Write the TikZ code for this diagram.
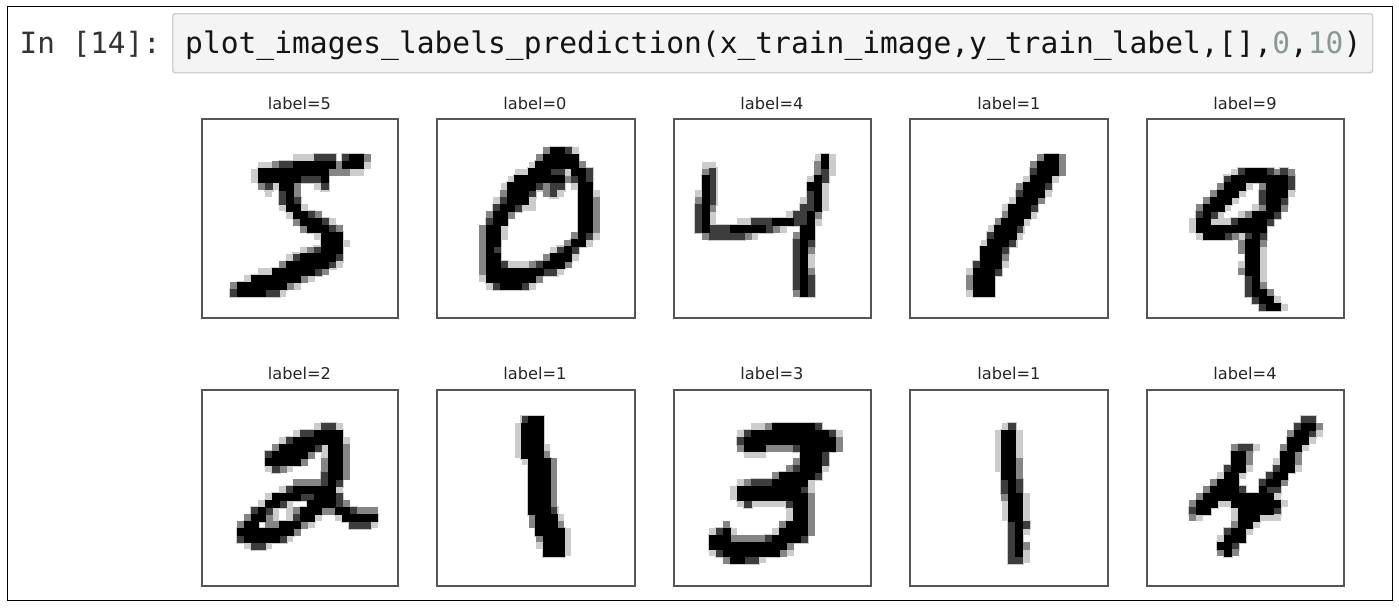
\documentclass[tikz,border=0pt]{standalone}
\usepackage{fontspec}
\newfontfamily\codefont{DejaVu Sans Mono}
\newfontfamily\labelfont{DejaVu Sans}
\definecolor{inbg}{HTML}{F4F4F4}
\definecolor{inline}{HTML}{CFCFCF}
\definecolor{numcol}{HTML}{8A9A92}
\definecolor{codecol}{HTML}{141414}
\definecolor{promptcol}{HTML}{333333}
\definecolor{axcol}{HTML}{555555}
\newcount\cc
\def\setorigin#1#2#3#4{\def\ox{#1}\def\oy{#2}\def\cw{#3}\def\ch{#4}}
\def\pr#1#2#3{\def\currow{#1}\cc=#2\relax\prloop#3\relax}
\def\prloop#1{\ifx#1\relax\else\prcell#1\advance\cc by 1\relax\expandafter\prloop\fi}
\def\prbox#1#2{\fill[#1] ({\ox+\the\cc*\cw-#2},{\oy+\currow*\ch-#2}) rectangle ++({\cw+2*#2},{\ch+2*#2});}
\def\prcell#1{\if#1.\else
  \ifnum\passlevel=0
    \ifnum#1>2 \prbox{black!20}{1.5}\fi
  \else
    \ifnum#1=\passlevel
      \ifcase#1\or\prbox{lv1}{0.1}\or\prbox{lv2}{0.2}\or\prbox{lv3}{0.3}\or\prbox{lv4}{0.5}\fi
    \fi
  \fi
\fi}
\tikzset{
  lv1/.style={fill=black!20},
  lv2/.style={fill=black!48},
  lv3/.style={fill=black!76},
  lv4/.style={fill=black},
  imgbox/.style={draw=axcol,line width=1.9pt,fill=none,inner sep=0pt,minimum width=#1,anchor=north west},
  imglabel/.style={font=\labelfont\fontsize{16.2}{18}\selectfont,text=black!85,anchor=base,inner sep=0pt},
  codetext/.style={font=\codefont\fontsize{29.6}{34}\selectfont,anchor=base west,inner sep=0pt}
}
\begin{document}
\begin{tikzpicture}[x=1pt,y=-1pt]
\useasboundingbox (0,0) rectangle (1399,613);
\fill[white] (0,0) rectangle (1399,613);
\node[draw=black,line width=1.1pt,minimum width=1385pt,minimum height=594pt,inner sep=0pt,anchor=north west] (frame) at (7,6) {};
\node[draw=inline,fill=inbg,line width=1.4pt,rounded corners=2.5pt,minimum width=1200pt,minimum height=59pt,inner sep=0pt,anchor=north west] (cell) at (172,13) {};
\node[codetext,text=promptcol,font=\codefont\fontsize{29.3}{34}\selectfont] (prompt) at (19.5,53) {In [14]:};
\node[codetext,text=codecol] (code) at (185,53) {plot\_images\_labels\_prediction(x\_train\_image,y\_train\_label,[],{\color{numcol}0},{\color{numcol}10})};

\def\alldigits{%
\setorigin{202}{119}{7.03}{7.1}%
\pr{5}{13}{111 333 . 3 44 2}%
\pr{6}{8}{11 2 33 444444 2 444 1}%
\pr{7}{7}{1 4444444444 222 11}%
\pr{8}{7}{1 444444 333 4}%
\pr{9}{8}{2 3 1 44 2 .. 1 3}%
\pr{10}{9}{1 . 3 4 2}%
\pr{11}{11}{3 4 3}%
\pr{12}{11}{1 44 1}%
\pr{13}{12}{1 44 3 2}%
\pr{14}{13}{2 444 3 1}%
\pr{15}{14}{2 444 3 2}%
\pr{16}{16}{1 444}%
\pr{17}{17}{444 1}%
\pr{18}{14}{1 2 3 444}%
\pr{19}{12}{1 3 44444 3}%
\pr{20}{11}{2 444444 3 1}%
\pr{21}{8}{11 444444 3 2}%
\pr{22}{6}{1 4444444 2 1}%
\pr{23}{4}{2 4444444 2 1}%
\pr{24}{4}{3 4444 33 1}%
\setorigin{437}{119}{7.07}{7.1}%
\pr{4}{15}{2 44 3 1}%
\pr{5}{14}{2 44444}%
\pr{6}{13}{1 444444 2}%
\pr{7}{11}{1 1 444 33 1 44 3}%
\pr{8}{10}{1 4444444 2 3 4 3}%
\pr{9}{9}{1 4444 3 2 33 . 1 44}%
\pr{10}{9}{2 444 3 . 2 3 1 .. 44 1}%
\pr{11}{8}{1 3 444 1 ...... 44 2}%
\pr{12}{8}{3 44 3 1 1 ...... 44 2}%
\pr{13}{7}{2 44 2 ......... 44 2}%
\pr{14}{7}{3 44 .......... 44 2}%
\pr{15}{6}{2 44 1 .......... 44 2}%
\pr{16}{6}{2 44 1 ......... 2 4 3 1}%
\pr{17}{6}{2 44 ......... 2 44 1}%
\pr{18}{6}{2 4 3 ....... 1 3 4 3}%
\pr{19}{6}{2 44 ...... 2 444 1}%
\pr{20}{6}{2 44 3 1 1 1 2 3 444 2}%
\pr{21}{6}{2 44444444 33 1}%
\pr{22}{6}{1 4444444 2}%
\pr{23}{7}{1 3 444 3 1}%
\setorigin{674}{119}{7.03}{7.1}%
\pr{5}{20}{1 4 1}%
\pr{6}{4}{11}%
\pr{6}{20}{2 4 1}%
\pr{7}{4}{2 3}%
\pr{7}{20}{2 3 1}%
\pr{8}{4}{4 3}%
\pr{8}{19}{1 4 3}%
\pr{9}{4}{4 3}%
\pr{9}{19}{4 4 1}%
\pr{10}{3}{1 4 3}%
\pr{10}{19}{3 4 1}%
\pr{11}{3}{2 4 3}%
\pr{11}{18}{1 3 4 1}%
\pr{12}{3}{3 4 2}%
\pr{12}{18}{3 3 4 1}%
\pr{13}{3}{3 4 1}%
\pr{13}{16}{1 3 3 4 2}%
\pr{14}{3}{3 4 1 ... 1 1 333 444 3 3 4 1}%
\pr{15}{3}{3 4 333 44444 3 2 1 .. 4 4}%
\pr{16}{4}{2 33333 2 1 ..... 2 4 4}%
\pr{17}{17}{3 4 3}%
\pr{18}{17}{3 4 2}%
\pr{19}{17}{3 4 1}%
\pr{20}{17}{3 4 1}%
\pr{21}{17}{3 4 2}%
\pr{22}{17}{3 4 3}%
\pr{23}{17}{3 4 3}%
\pr{24}{17}{2 4 3}%
\setorigin{910}{119}{7.07}{7.1}%
\pr{5}{18}{2 44 2}%
\pr{6}{17}{2 444 2}%
\pr{7}{17}{3 444 2}%
\pr{8}{16}{1 444 1}%
\pr{9}{15}{2 444 3}%
\pr{10}{15}{3 444 1}%
\pr{11}{14}{1 444 2}%
\pr{12}{13}{1 444 3}%
\pr{13}{13}{2 444 1}%
\pr{14}{12}{2 444 1}%
\pr{15}{11}{1 444 3}%
\pr{16}{11}{3 444 1}%
\pr{17}{10}{1 444 3}%
\pr{18}{10}{444 3}%
\pr{19}{10}{444 2}%
\pr{20}{9}{3 444 1}%
\pr{21}{8}{1 444 3}%
\pr{22}{8}{2 444}%
\pr{23}{8}{2 444}%
\pr{24}{8}{1 444}%
\setorigin{1147}{119}{7.03}{7.1}%
\pr{7}{12}{1 3 444 3 2 3 2}%
\pr{8}{11}{3 44444444 3}%
\pr{9}{10}{2 444 1 . 2 444 3}%
\pr{10}{9}{2 444 1 .. 3 444 1}%
\pr{11}{8}{2 444 1 ... 3 44 3}%
\pr{12}{7}{2 444 1 ... 1 2 44 2}%
\pr{13}{7}{3 4 3 1 .. 1 2 444 3}%
\pr{14}{6}{1 44 1 1 1 3 4444 3}%
\pr{15}{6}{1 4444444444}%
\pr{16}{7}{1 444 3 2 1 3 4 3}%
\pr{17}{13}{2 44 2}%
\pr{18}{13}{2 44 1}%
\pr{19}{14}{44 1}%
\pr{20}{13}{1 44 1}%
\pr{21}{13}{2 44 1}%
\pr{22}{14}{3 4 1}%
\pr{23}{14}{3 4 2}%
\pr{24}{14}{3 44 2}%
\pr{25}{15}{3 44 1}%
\pr{26}{16}{3 44 1}%
\setorigin{202}{423.3}{7.03}{7}%
\pr{0}{16}{1 33 1}%
\pr{1}{13}{1 33 4444}%
\pr{2}{11}{1 3 4444444 1}%
\pr{3}{10}{2 44444 3 1 44 2}%
\pr{4}{9}{3 44444 2 . 1 44 2}%
\pr{5}{9}{44444 2 .. 2 44 2}%
\pr{6}{9}{1 3 2 1 .... 2 44 2}%
\pr{7}{17}{3 44 2}%
\pr{8}{13}{2222 3 4 3}%
\pr{9}{11}{1 3 444444 1}%
\pr{10}{9}{1 4444 33 444 3}%
\pr{11}{8}{1 44 3 1 .. 4444 3 2}%
\pr{12}{7}{3 4 3 1 . 1 2 444 22 44 3 222}%
\pr{13}{6}{2 44 2 1 . 1 3 44 1 .. 1 44444}%
\pr{14}{5}{2 44 . 22 444 2 1 ..... 333 1}%
\pr{15}{5}{44444444 2}%
\pr{16}{5}{3 44444 3 1}%
\pr{17}{6}{1 33 1}%
\setorigin{437}{388}{7.07}{7}%
\pr{4}{12}{3 44}%
\pr{5}{11}{1 444}%
\pr{6}{11}{1 444}%
\pr{7}{11}{1 444}%
\pr{8}{11}{1 444 1}%
\pr{9}{11}{1 444 2}%
\pr{10}{12}{1 444 2}%
\pr{11}{13}{444 2}%
\pr{12}{13}{444 2}%
\pr{13}{13}{444 2}%
\pr{14}{13}{444 2}%
\pr{15}{13}{444 2}%
\pr{16}{13}{444 2}%
\pr{17}{13}{444 3}%
\pr{18}{13}{2 444 1}%
\pr{19}{13}{2 444 2}%
\pr{20}{14}{4444 1}%
\pr{21}{14}{2 444 1}%
\pr{22}{14}{1 444 1}%
\pr{23}{15}{444 1}%
\setorigin{674}{423.3}{7.03}{7}%
\pr{0}{11}{11 2 444444 3}%
\pr{1}{9}{1 3 44444444444 3 1}%
\pr{2}{9}{3 4444444444444 2}%
\pr{3}{9}{2 444 2222 3 44444 2}%
\pr{4}{10}{111 ..... 444 3}%
\pr{5}{17}{2 444 3}%
\pr{6}{16}{2 3 444 1}%
\pr{7}{14}{2 44444 3}%
\pr{8}{9}{1 2 333 44444 1}%
\pr{9}{8}{1 444444444 3 1}%
\pr{10}{8}{1 4444444444 2}%
\pr{11}{9}{1 3 11111 3 44 2}%
\pr{12}{16}{1 44 2}%
\pr{13}{16}{1 44 2}%
\pr{14}{7}{2 ....... 2 444 2}%
\pr{15}{5}{1 3 4 1 ..... 1 4444 2}%
\pr{16}{5}{444 22222 3 4444 3}%
\pr{17}{5}{44444444444 2}%
\pr{18}{5}{1 3 44444444 2 1}%
\pr{19}{7}{2 44 3 3 1}%
\setorigin{910}{388.3}{7.05}{7}%
\pr{5}{13}{1 3}%
\pr{6}{12}{1 44 1}%
\pr{7}{12}{1 44 1}%
\pr{8}{12}{1 44 1}%
\pr{9}{12}{1 44 1}%
\pr{10}{12}{1 44 2}%
\pr{11}{12}{1 44 2}%
\pr{12}{13}{44 2}%
\pr{13}{13}{3 4 3}%
\pr{14}{13}{3 4 3}%
\pr{15}{13}{2 44 1}%
\pr{16}{13}{1 44 1}%
\pr{17}{13}{1 44 1}%
\pr{18}{13}{1 44 1}%
\pr{19}{14}{3 4 3}%
\pr{20}{14}{3 4 1}%
\pr{21}{14}{3 4}%
\pr{22}{14}{3 4 2}%
\pr{23}{14}{3 4 1}%
\pr{24}{14}{33 1}%
\setorigin{1147}{416}{7.03}{7}%
\pr{0}{22}{33}%
\pr{1}{21}{3 44 2}%
\pr{2}{20}{2 44 3 1}%
\pr{3}{20}{444 1}%
\pr{4}{12}{2 3 3 1}%
\pr{4}{19}{2 44 1}%
\pr{5}{12}{44 2}%
\pr{5}{19}{44 2}%
\pr{6}{12}{44 2}%
\pr{6}{18}{1 44 2}%
\pr{7}{11}{3 44 1}%
\pr{7}{18}{3 44 1}%
\pr{8}{10}{1 44 1}%
\pr{8}{17}{3 44}%
\pr{9}{9}{2 444 ... 3 44 2}%
\pr{10}{8}{2 4444 3 .. 4 33}%
\pr{11}{7}{2 4444444444 1}%
\pr{12}{6}{2 444 11 4444444 1}%
\pr{13}{6}{3 44 ... 1 44444 3}%
\pr{14}{6}{2 1 .... 1 444 111}%
\pr{15}{12}{2 44 1}%
\pr{16}{11}{3 44 1}%
\pr{17}{10}{1 444}%
\pr{18}{10}{44 3}%
\pr{19}{10}{2 4 2}%
}
\def\passlevel{0}\alldigits
\def\passlevel{1}\alldigits
\def\passlevel{2}\alldigits
\def\passlevel{3}\alldigits
\def\passlevel{4}\alldigits

% image frames
\node[imgbox=196pt,minimum height=199pt] (a1) at (201,118) {};
\node[imgbox=198pt,minimum height=199pt] (a2) at (436,118) {};
\node[imgbox=197pt,minimum height=199pt] (a3) at (673,118) {};
\node[imgbox=198pt,minimum height=199pt] (a4) at (909,118) {};
\node[imgbox=197pt,minimum height=199pt] (a5) at (1146,118) {};
\node[imgbox=196pt,minimum height=196pt] (b1) at (201,389) {};
\node[imgbox=198pt,minimum height=196pt] (b2) at (436,389) {};
\node[imgbox=197pt,minimum height=196pt] (b3) at (673,389) {};
\node[imgbox=198pt,minimum height=196pt] (b4) at (909,389) {};
\node[imgbox=197pt,minimum height=196pt] (b5) at (1146,389) {};

\node[imglabel] (la1) at (299.5,109) {label=5};
\node[imglabel] (la2) at (535,109) {label=0};
\node[imglabel] (la3) at (772,109) {label=4};
\node[imglabel] (la4) at (1009,109) {label=1};
\node[imglabel] (la5) at (1245,109) {label=9};
\node[imglabel] (lb1) at (299.5,379) {label=2};
\node[imglabel] (lb2) at (535,379) {label=1};
\node[imglabel] (lb3) at (772,379) {label=3};
\node[imglabel] (lb4) at (1009,379) {label=1};
\node[imglabel] (lb5) at (1245,379) {label=4};
\end{tikzpicture}
\end{document}
